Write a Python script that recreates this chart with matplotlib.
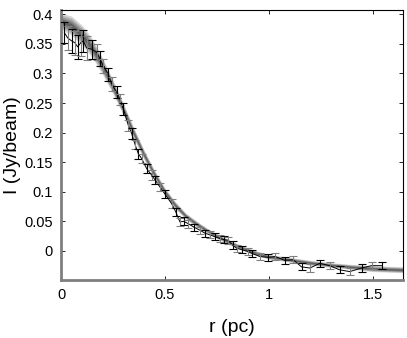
import numpy as np
import matplotlib.pyplot as plt

plt.rcParams['font.family'] = ['Liberation Sans', 'DejaVu Sans']

# model band (ensemble of fits): radius, centre and half-width
r_mod = [0.0, 0.05, 0.1, 0.15, 0.2, 0.25, 0.3, 0.35, 0.4, 0.45, 0.5, 0.55,
         0.6, 0.65, 0.7, 0.75, 0.8, 0.85, 0.9, 0.95, 1.0, 1.1, 1.2, 1.3,
         1.4, 1.5, 1.65]
i_mod = [0.388, 0.381, 0.365, 0.343, 0.312, 0.277, 0.239, 0.199, 0.162,
         0.129, 0.1, 0.077, 0.059, 0.046, 0.035, 0.025, 0.016, 0.008,
         0.001, -0.005, -0.01, -0.015, -0.02, -0.024, -0.027, -0.03, -0.032]
w_mod = [0.014, 0.016, 0.017, 0.016, 0.014, 0.012, 0.010, 0.009, 0.008,
         0.007, 0.006, 0.006, 0.005, 0.005, 0.004, 0.004, 0.004, 0.004,
         0.004, 0.004, 0.004, 0.004, 0.004, 0.004, 0.004, 0.005, 0.005]

# observed profile
r_obs = [0.016, 0.032, 0.051, 0.066, 0.08, 0.095, 0.107, 0.123, 0.147, 0.171,
         0.187, 0.203, 0.227, 0.244, 0.268, 0.284, 0.3, 0.324, 0.34, 0.356,
         0.372, 0.388, 0.412, 0.436, 0.452, 0.476, 0.5, 0.532, 0.552, 0.572,
         0.59, 0.612, 0.64, 0.668, 0.692, 0.716, 0.74, 0.764, 0.784, 0.804,
         0.825, 0.845, 0.87, 0.9, 0.917, 0.957, 0.997, 1.03, 1.077, 1.117,
         1.157, 1.197, 1.245, 1.293, 1.34, 1.389, 1.446, 1.494, 1.542]
i_obs = [0.369, 0.36, 0.355, 0.352, 0.345, 0.352, 0.355, 0.343, 0.341, 0.336,
         0.325, 0.313, 0.299, 0.282, 0.268, 0.256, 0.24, 0.212, 0.198, 0.18,
         0.164, 0.156, 0.139, 0.128, 0.12, 0.108, 0.096, 0.08, 0.066, 0.049,
         0.05, 0.046, 0.04, 0.035, 0.03, 0.027, 0.024, 0.021, 0.019, 0.018,
         0.01, 0.0045, 0.002, -0.001, -0.004, -0.0095, -0.011, -0.0095,
         -0.016, -0.015, -0.027, -0.029, -0.021, -0.025, -0.032, -0.035,
         -0.029, -0.025, -0.025]
e_obs = [0.018, 0.02, 0.02, 0.02, 0.02, 0.022, 0.018, 0.02, 0.016, 0.014,
         0.013, 0.012, 0.011, 0.012, 0.01, 0.01, 0.01, 0.009, 0.009, 0.008,
         0.008, 0.008, 0.008, 0.008, 0.007, 0.007, 0.007, 0.007, 0.007, 0.007,
         0.007, 0.007, 0.006, 0.006, 0.006, 0.006, 0.006, 0.006, 0.006, 0.006,
         0.006, 0.006, 0.006, 0.006, 0.006, 0.006, 0.006, 0.006, 0.006, 0.006,
         0.006, 0.006, 0.006, 0.006, 0.006, 0.006, 0.006, 0.006, 0.006]

r_mod = np.array(r_mod)
i_mod = np.array(i_mod)
w_mod = np.array(w_mod)
r_obs = np.array(r_obs)
i_obs = np.array(i_obs)
e_obs = np.array(e_obs)

fig = plt.figure(figsize=(4.07, 3.38), dpi=100)
ax = fig.add_axes([0.15, 0.172, 0.84, 0.798])

# band of fits, lighter at the edges
for f, c in [(1.0, '#d8d8d8'), (0.8, '#b8b8b8'), (0.6, '#989898'),
             (0.4, '#7a7a7a'), (0.2, '#5e5e5e')]:
    ax.fill_between(r_mod, i_mod - f * w_mod, i_mod + f * w_mod,
                    color=c, lw=0, zorder=1)

ax.plot(r_obs, i_obs, color='k', lw=0.7, zorder=3)
for k in range(len(r_obs)):
    col = 'k' if k % 2 == 0 else '#808080'
    ax.errorbar(r_obs[k], i_obs[k], yerr=e_obs[k], fmt='none',
                ecolor=col, elinewidth=0.8, capsize=3, capthick=0.8,
                zorder=4)

ax.set_xlim(0, 1.645)
ax.set_ylim(-0.049, 0.407)
ax.set_xticks([0, 0.5, 1, 1.5])
ax.set_xticklabels(['0', '0.5', '1', '1.5'])
ax.set_yticks(np.arange(0, 0.41, 0.05))
ax.set_yticklabels(['0', '0.05', '0.1', '0.15', '0.2', '0.25', '0.3',
                    '0.35', '0.4'])
ax.tick_params(direction='in', top=True, right=True, length=3, width=0.6,
               labelsize=10.5, pad=6)

for s in ['left', 'bottom']:
    ax.spines[s].set_color('#7f7f7f')
    ax.spines[s].set_linewidth(2)
for s in ['top', 'right']:
    ax.spines[s].set_color('k')
    ax.spines[s].set_linewidth(0.8)

ax.set_xlabel('r (pc)', fontsize=14, labelpad=12)
ax.set_ylabel('I (Jy/beam)', fontsize=14, labelpad=2)

fig.savefig('out.png', dpi=100)
